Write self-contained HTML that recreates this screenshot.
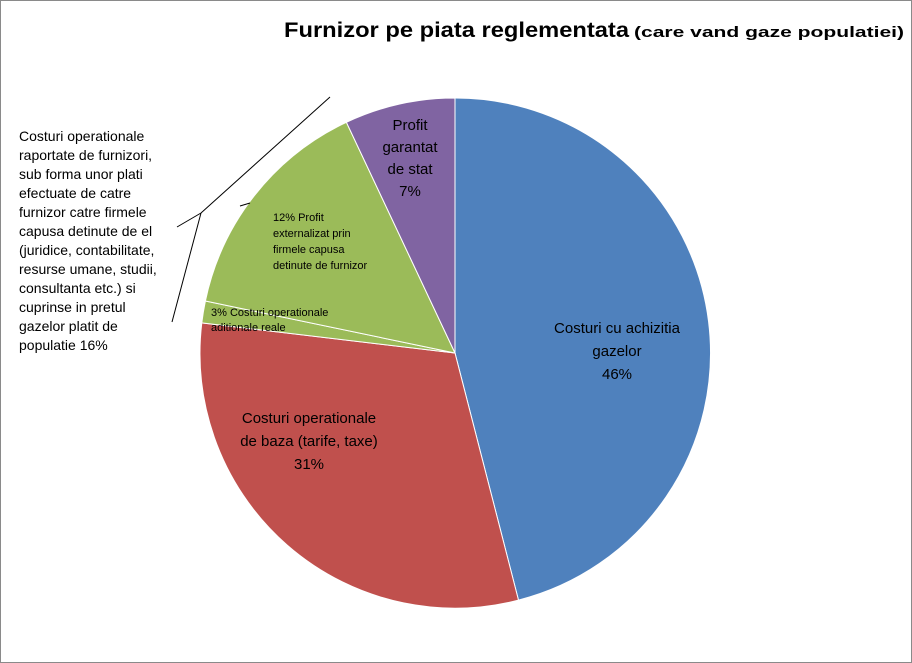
<!DOCTYPE html>
<html><head><meta charset="utf-8"><style>
html,body{margin:0;padding:0;background:#fff}
svg{display:block}
</style></head><body>
<svg width="912" height="663" viewBox="0 0 912 663" xmlns="http://www.w3.org/2000/svg" font-family="Liberation Sans, sans-serif">
<rect x="0.5" y="0.5" width="911" height="662" fill="#fff" stroke="#8a8a8a"/>
<g stroke="#fff" stroke-width="1">
<path d="M455,353 L455,98 A255,255 0 0 1 518.5,600.1 Z" fill="#4F81BD"/>
<path d="M455,353 L518.5,600.1 A255,255 0 0 1 201.8,322.9 Z" fill="#C0504D"/>
<path d="M455,353 L201.8,322.9 A255,255 0 0 1 205.4,301 Z" fill="#9BBB59"/>
<path d="M455,353 L205.4,301 A255,255 0 0 1 346.4,122.3 Z" fill="#9BBB59"/>
<path d="M455,353 L346.4,122.3 A255,255 0 0 1 455,98 Z" fill="#8064A2"/>
</g>
<g stroke="#000" stroke-width="1" fill="none">
<line x1="330" y1="97" x2="201" y2="213"/>
<line x1="201" y1="213" x2="172" y2="322"/>
<line x1="177" y1="227" x2="201" y2="213"/>
<line x1="240" y1="206" x2="250" y2="203"/>
</g>
<text x="284" y="37" font-family="Liberation Sans Narrow, Liberation Sans, sans-serif" font-weight="bold" font-size="21" textLength="345" lengthAdjust="spacingAndGlyphs">Furnizor pe piata reglementata</text>
<text x="634" y="37" font-weight="bold" font-size="15" textLength="270" lengthAdjust="spacingAndGlyphs">(care vand gaze populatiei)</text>
<g font-size="14" fill="#000">
<text x="19" y="141">Costuri operationale</text>
<text x="19" y="160">raportate de furnizori,</text>
<text x="19" y="179">sub forma unor plati</text>
<text x="19" y="198">efectuate de catre</text>
<text x="19" y="217">furnizor catre firmele</text>
<text x="19" y="236">capusa detinute de el</text>
<text x="19" y="255">(juridice, contabilitate,</text>
<text x="19" y="274">resurse umane, studii,</text>
<text x="19" y="293">consultanta etc.) si</text>
<text x="19" y="312">cuprinse in pretul</text>
<text x="19" y="331">gazelor platit de</text>
<text x="19" y="350">populatie 16%</text>
</g>
<g font-size="11" fill="#000">
<text x="273" y="221">12% Profit</text>
<text x="273" y="237">externalizat prin</text>
<text x="273" y="253">firmele capusa</text>
<text x="273" y="269">detinute de furnizor</text>
<text x="211" y="316">3% Costuri operationale</text>
<text x="211" y="331">aditionale reale</text>
</g>
<g font-size="15" fill="#000" text-anchor="middle">
<text x="410" y="130">Profit</text>
<text x="410" y="152">garantat</text>
<text x="410" y="174">de stat</text>
<text x="410" y="196">7%</text>
<text x="617" y="333">Costuri cu achizitia</text>
<text x="617" y="356">gazelor</text>
<text x="617" y="379">46%</text>
<text x="309" y="423">Costuri operationale</text>
<text x="309" y="446">de baza (tarife, taxe)</text>
<text x="309" y="469">31%</text>
</g>
</svg>
</body></html>
